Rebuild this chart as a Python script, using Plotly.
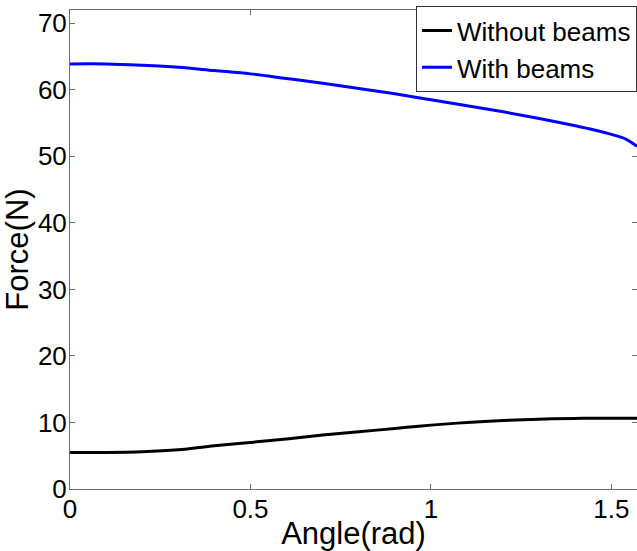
import plotly.graph_objects as go

angle = [0, 0.1, 0.2, 0.3, 0.4, 0.5, 0.6, 0.7, 0.8, 0.9, 1.0, 1.1, 1.2, 1.3, 1.4, 1.45, 1.5, 1.54, 1.5708]
with_beams = [63.9, 63.9, 63.7, 63.4, 62.9, 62.4, 61.7, 61.0, 60.2, 59.4, 58.5, 57.6, 56.7, 55.7, 54.6, 54.0, 53.3, 52.6, 51.5]
without_beams = [5.5, 5.5, 5.6, 5.9, 6.5, 7.0, 7.5, 8.1, 8.6, 9.1, 9.6, 10.0, 10.3, 10.5, 10.6, 10.65, 10.65, 10.65, 10.65]

xticks = [0, 0.5, 1, 1.5]
xticklabels = ["0", "0.5", "1", "1.5"]
yticks = [0, 10, 20, 30, 40, 50, 60, 70]

FONT = "Liberation Sans, Arial, sans-serif"
AX = "#6e6e6e"

fig = go.Figure()
fig.add_trace(go.Scatter(x=angle, y=without_beams, mode="lines", name="Without beams",
                         line=dict(color="#000000", width=3, shape="spline")))
fig.add_trace(go.Scatter(x=angle, y=with_beams, mode="lines", name="With beams",
                         line=dict(color="#0000ff", width=3, shape="spline")))
# invisible trace for right-side ticks
fig.add_trace(go.Scatter(x=[angle[0]], y=[without_beams[0]], yaxis="y2", showlegend=False,
                         mode="markers", marker=dict(opacity=0), hoverinfo="skip"))

fig.update_layout(
    width=637, height=551,
    margin=dict(l=70, r=0, t=10, b=62),
    paper_bgcolor="white", plot_bgcolor="white",
    font=dict(family=FONT, size=26, color="black"),
    showlegend=True,
    legend=dict(x=1, y=1.008, xanchor="right", yanchor="top",
                bgcolor="white", bordercolor="#333333", borderwidth=1,
                font=dict(size=26), tracegroupgap=0, itemwidth=30),
    xaxis=dict(range=[0, 1.5708], tickvals=xticks, ticktext=xticklabels,
               showgrid=False, zeroline=False, showline=True, linecolor=AX, linewidth=1,
               mirror="ticks", ticks="inside", ticklen=5, tickcolor=AX,
               ticklabelstandoff=-3,
               title=dict(text="Angle(rad)", standoff=0), tickfont=dict(size=26)),
    yaxis=dict(range=[0, 72], tickvals=yticks,
               showgrid=False, zeroline=False, showline=True, linecolor=AX, linewidth=1,
               mirror=False, ticks="inside", ticklen=5, tickcolor=AX,
               ticklabelstandoff=-3,
               title=dict(text="Force(N)", standoff=4), tickfont=dict(size=26)),
    yaxis2=dict(range=[0, 72], tickvals=yticks, overlaying="y", side="right",
                showgrid=False, zeroline=False, showline=False, showticklabels=False,
                ticks="inside", ticklen=5, tickcolor=AX),
)

fig.write_html("out.html")
